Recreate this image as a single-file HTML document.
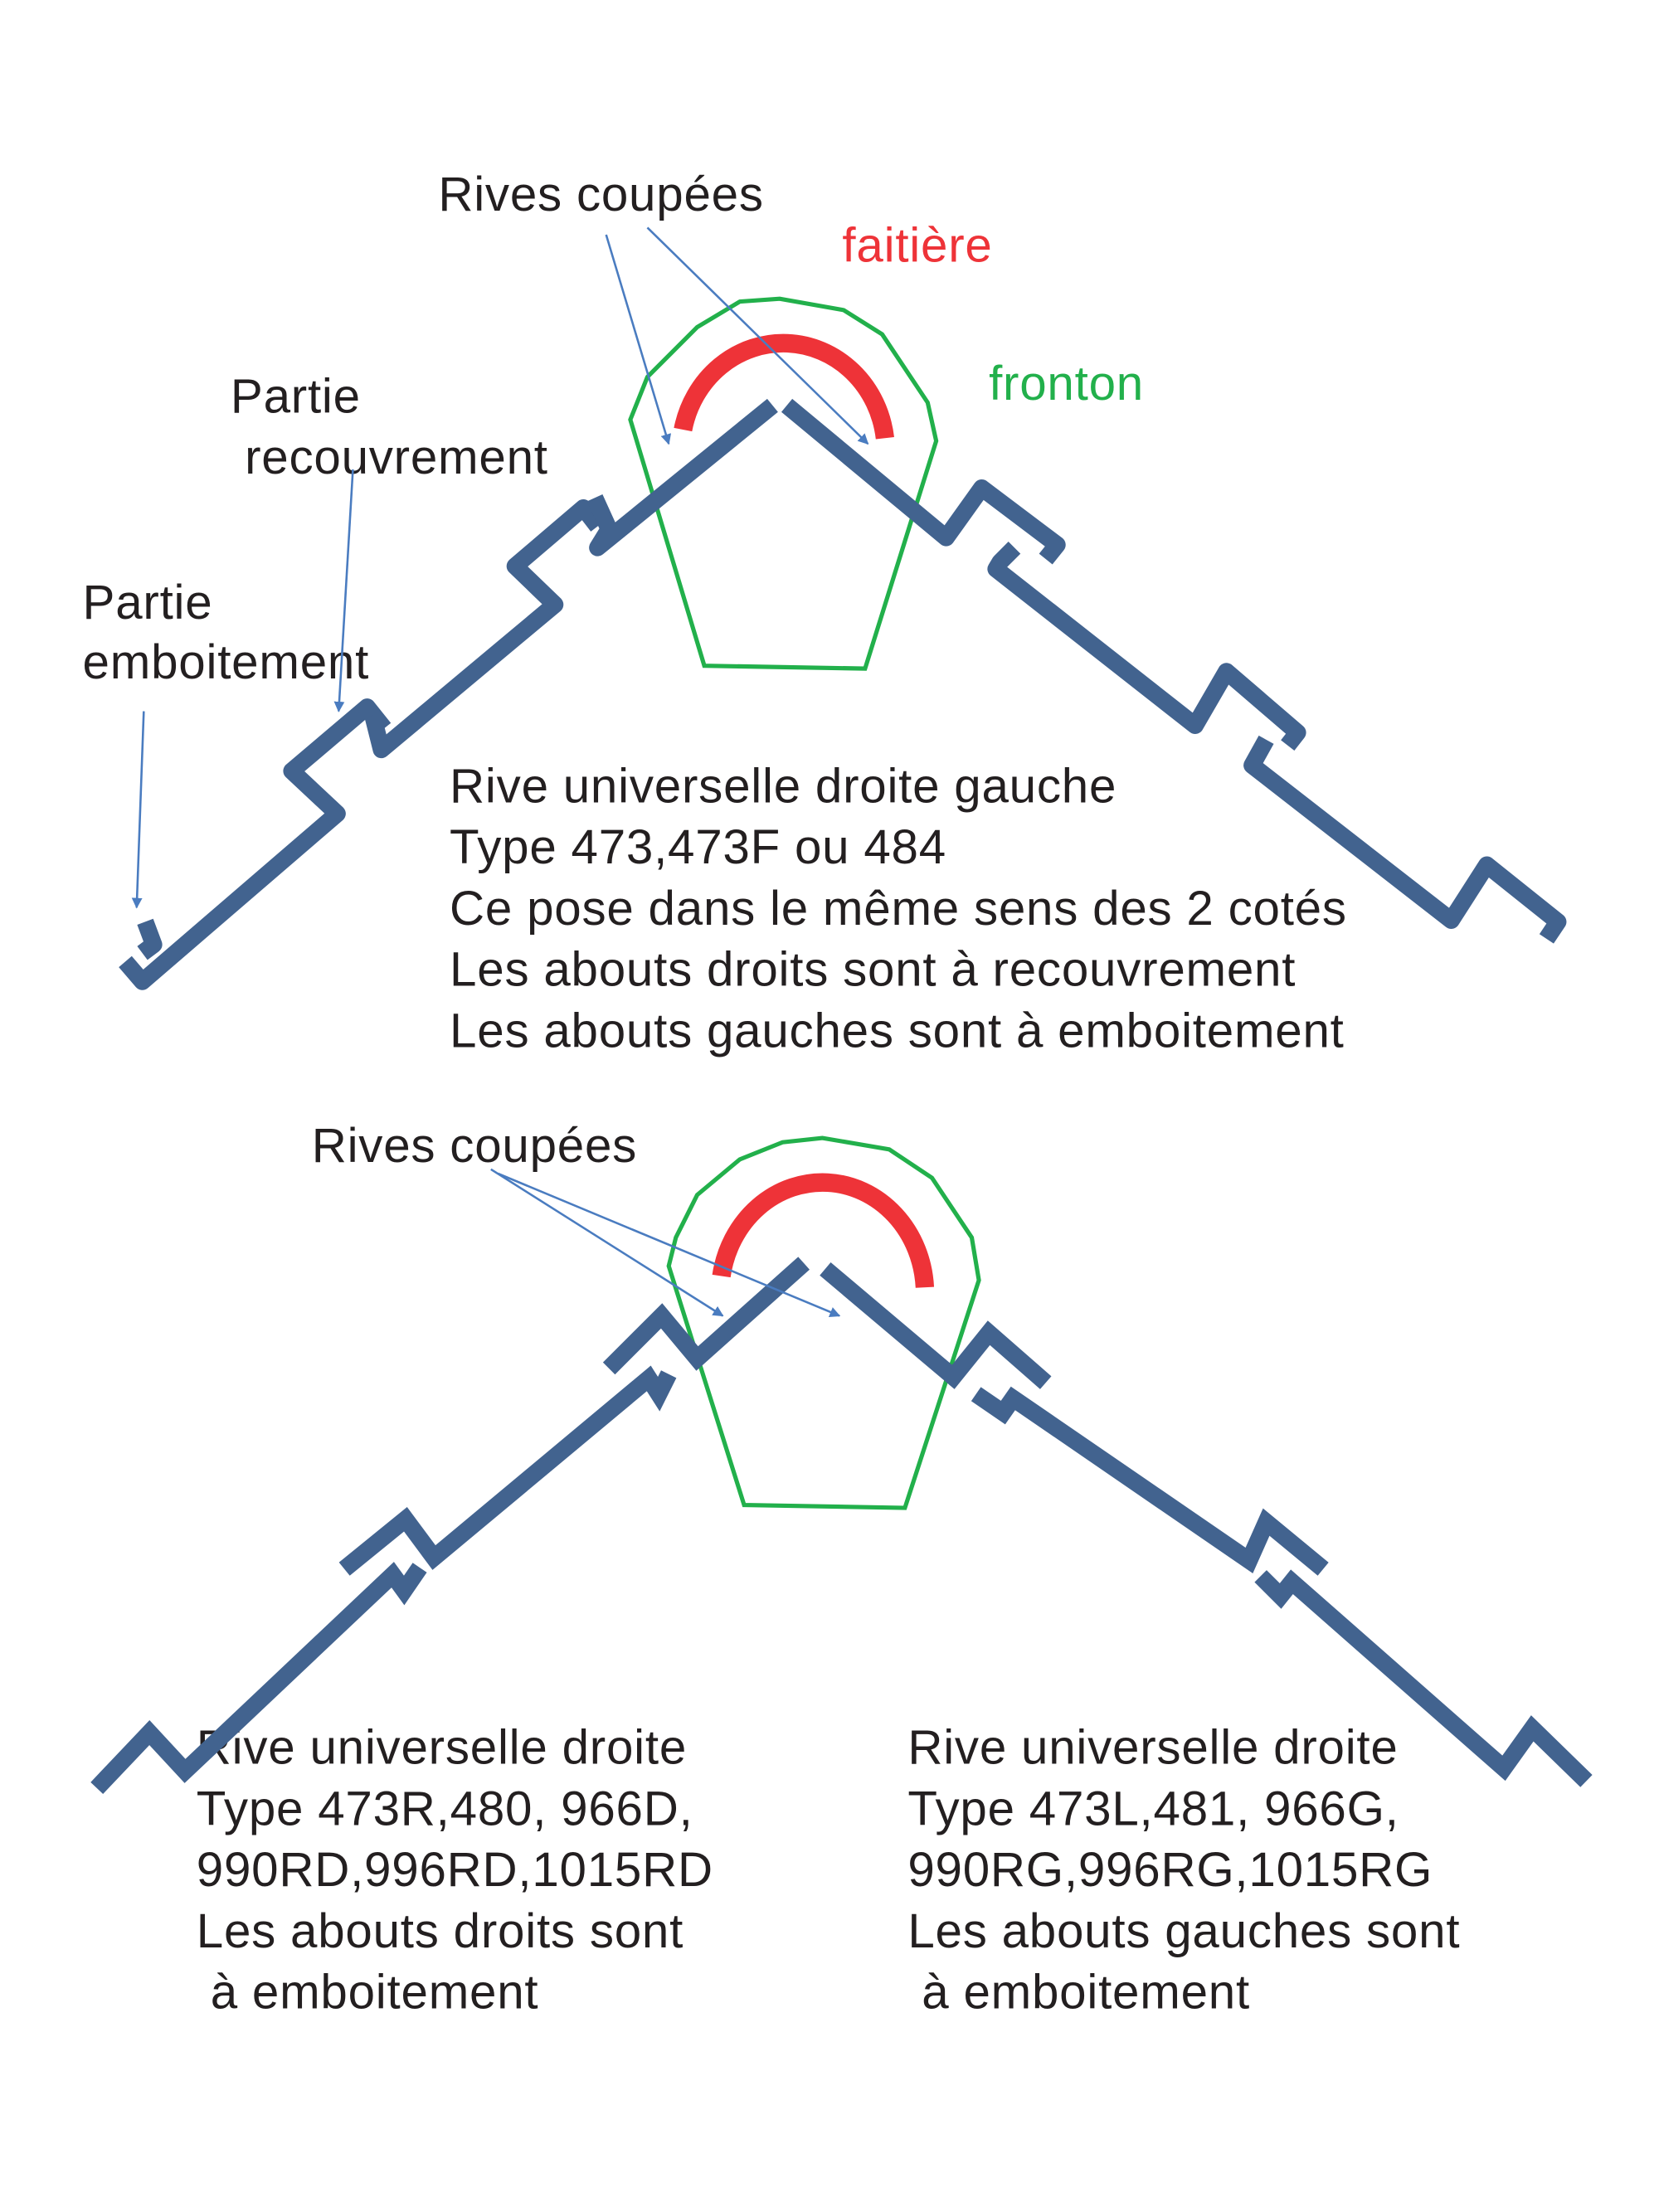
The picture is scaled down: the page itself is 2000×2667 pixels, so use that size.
<!DOCTYPE html>
<html><head><meta charset="utf-8"><style>html,body{margin:0;padding:0;background:#fff}svg{display:block}</style></head>
<body>
<svg width="2000" height="2667" viewBox="0 0 1166 1555" xmlns="http://www.w3.org/2000/svg">
<defs><marker id="ar" viewBox="0 0 10 10" refX="9" refY="5" markerWidth="5" markerHeight="5" orient="auto"><path d="M0,0L10,5L0,10z" fill="#4a7cc0"/></marker></defs>
<g font-family="Liberation Sans, sans-serif" font-size="34" fill="#231f20" letter-spacing="0.45">
<text x="308" y="148">Rives coupées</text>
<text x="592" y="184" fill="#ee3338">faitière</text>
<text x="695" y="281" fill="#22b04b">fronton</text>
<text x="162" y="290">Partie</text>
<text x="172" y="333">recouvrement</text>
<text x="58" y="435">Partie</text>
<text x="58" y="477">emboitement</text>
<text x="316" y="564">Rive universelle droite gauche</text>
<text x="316" y="607">Type 473,473F ou 484</text>
<text x="316" y="650">Ce pose dans le même sens des 2 cotés</text>
<text x="316" y="693">Les abouts droits sont à recouvrement</text>
<text x="316" y="736">Les abouts gauches sont à emboitement</text>
<text x="219" y="817">Rives coupées</text>
<text x="138" y="1240">Rive universelle droite</text>
<text x="138" y="1283">Type 473R,480, 966D,</text>
<text x="138" y="1326">990RD,996RD,1015RD</text>
<text x="138" y="1369">Les abouts droits sont</text>
<text x="138" y="1412" xml:space="preserve"> à emboitement</text>
<text x="638" y="1240">Rive universelle droite</text>
<text x="638" y="1283">Type 473L,481, 966G,</text>
<text x="638" y="1326">990RG,996RG,1015RG</text>
<text x="638" y="1369">Les abouts gauches sont</text>
<text x="638" y="1412" xml:space="preserve"> à emboitement</text>
</g>
<g fill="none" stroke="#22b04b" stroke-width="3">
<polygon points="495,468 608,470 658,310 652,283 620,235 593,218 548,210 520,212 490,230 455,265 443,295"/>
<polygon points="523,1058 636,1060 688,900 683,870 655,828 625,808 578,800 550,803 520,815 490,840 475,870 470,890"/>
</g>
<g fill="none" stroke="#ee3338" stroke-width="13">
<path d="M480,302 A72,76 0 0 1 622,308"/>
<path d="M507,897 A72,78 0 0 1 650,905"/>
</g>
<g fill="none" stroke="#42638f" stroke-width="12" stroke-linejoin="round">
<path d="M88,676 L100,690 L237,572 L205,542 L258,497 L270,512"/>
<path d="M102,648 L108,664 L100,670"/>
<path d="M262,503 L268,527 L390,425 L362,398 L410,357 L420,370"/>
<path d="M418,350 L428,372 L420,385 L543,285"/>
<path d="M553,285 L665,378 L690,343 L743,383 L735,393"/>
<path d="M713,385 L703,395 L700,400 L840,510 L862,472 L912,515 L905,524"/>
<path d="M890,520 L880,538 L1020,647 L1045,608 L1095,648 L1087,660"/>
<path d="M565,888 L490,955 L465,925 L428,962" stroke-linejoin="miter"/>
<path d="M470,966 L463,980 L456,969 L305,1095 L285,1068 L242,1103" stroke-linejoin="miter"/>
<path d="M295,1102 L284,1118 L276,1107 L130,1245 L105,1218 L68,1257" stroke-linejoin="miter"/>
<path d="M580,892 L670,968 L695,937 L735,972" stroke-linejoin="miter"/>
<path d="M686,980 L705,993 L712,983 L878,1097 L890,1070 L930,1103" stroke-linejoin="miter"/>
<path d="M886,1108 L900,1122 L908,1112 L1057,1243 L1077,1215 L1115,1252" stroke-linejoin="miter"/>
</g>
<g stroke="#4a7cc0" stroke-width="1.5" fill="none" marker-end="url(#ar)">
<path d="M426,165 L470,312"/>
<path d="M455,160 L610,312"/>
<path d="M248,330 L238,500"/>
<path d="M101,500 L96,638"/>
<path d="M345,822 L508,925"/>
<path d="M350,825 L590,925"/>
</g>
</svg>
</body></html>
